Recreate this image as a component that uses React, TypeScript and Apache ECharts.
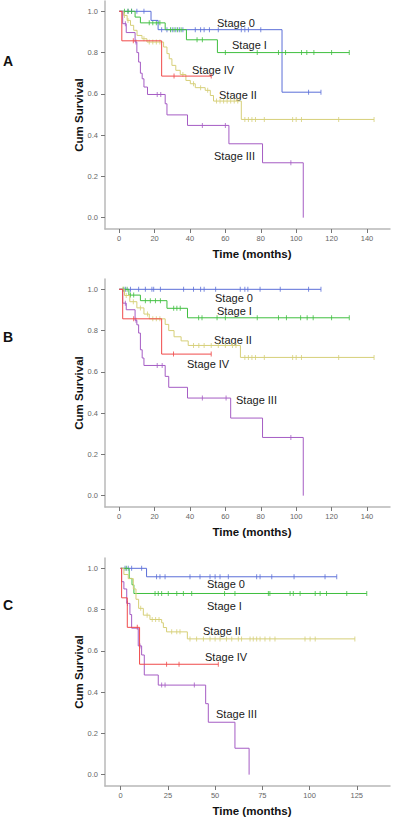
import React, { useEffect, useRef } from "react";
import * as echarts from "echarts";

// ---------- categories ----------
const STAGES = ["Stage 0", "Stage I", "Stage II", "Stage III", "Stage IV"];
const PANELS = ["A", "B", "C"];
const COLORS = ["#5b6fd8", "#3fbf3f", "#d6cf78", "#a55cc4", "#f04a4a"];

// ---------- tick labels ----------
const X_TICKS_AB = [0, 20, 40, 60, 80, 100, 120, 140];
const X_TICKS_C = [0, 25, 50, 75, 100, 125];
const Y_TICKS = [0, 0.2, 0.4, 0.6, 0.8, 1.0];

// ---------- Panel A: [time (months), cum survival] ----------
const A_S0 = [[0, 1], [18, 0.956], [22, 0.911], [92, 0.608], [114, 0.608]];
const A_S0_CENS = [5, 7, 10, 14, 24, 27, 30, 32, 34, 36, 43, 46, 48, 51, 56, 69, 71, 73, 80, 107, 114];
const A_S1 = [[0, 1], [9, 0.972], [12, 0.944], [26, 0.911], [38, 0.862], [55.5, 0.8], [130, 0.8]];
const A_S1_CENS = [3, 5, 7, 17, 19, 21, 23, 29, 31, 33, 35, 44, 47, 60, 78, 90, 94, 103, 106, 110, 120, 130];
const A_S2 = [[0, 1], [2.6, 0.98], [4.5, 0.956], [6.4, 0.932], [8.2, 0.908], [10.1, 0.883], [12.9, 0.867], [15.7, 0.851], [25.1, 0.827], [27, 0.795], [28.3, 0.77], [29.8, 0.738], [32, 0.714], [34.5, 0.694], [37.7, 0.665], [40.2, 0.649], [43, 0.63], [48.6, 0.617], [51.5, 0.592], [53.3, 0.565], [69, 0.476], [144, 0.476]];
const A_S2_CENS = [3, 5, 14, 17, 19, 21, 23, 36, 42, 46, 50, 55, 57, 59, 61, 63, 65, 67, 71, 73, 75, 77, 82, 98, 100, 103, 124, 144];
const A_S3 = [[0, 1], [2, 0.94], [4, 0.897], [9, 0.851], [10, 0.8], [11, 0.754], [12, 0.7], [13, 0.673], [14, 0.633], [16, 0.597], [26, 0.552], [27, 0.498], [38.6, 0.447], [62, 0.358], [81, 0.266], [104, 0]];
const A_S3_CENS = [3.5, 9.5, 21.5, 23.5, 47, 60, 97];
const A_S4 = [[0, 1], [1.5, 0.857], [24, 0.686], [52, 0.686]];
const A_S4_CENS = [8, 31, 52];

// ---------- Panel B ----------
const B_S0 = [[0, 1], [114, 1]];
const B_S0_CENS = [3.5, 6.4, 11, 14.8, 18.5, 19.5, 23.3, 36.4, 42, 46, 48, 54.5, 68.4, 71, 72.7, 79.6, 91, 107, 114];
const B_S1 = [[0, 1], [5.5, 0.972], [12, 0.945], [27, 0.908], [38.6, 0.862], [130, 0.862]];
const B_S1_CENS = [2.6, 4.5, 6.4, 8.2, 14.8, 17.6, 20.5, 23.3, 30.8, 32.6, 34.5, 44.9, 46.8, 55.3, 60, 78, 90, 94.5, 102.5, 106.2, 109.6, 120, 130];
const B_S2 = [[0, 1], [3, 0.97], [6, 0.94], [10, 0.91], [14, 0.88], [17, 0.857], [26, 0.83], [28, 0.8], [31, 0.77], [35, 0.75], [39, 0.728], [68.5, 0.67], [144, 0.67]];
const B_S2_CENS = [2, 4, 8, 12, 16, 19, 21, 23, 42, 45, 48, 52, 56, 60, 64, 66, 71, 73, 75, 77, 82, 98, 100, 103, 124, 144];
const B_S3 = [[0, 1], [2, 0.933], [4, 0.901], [9, 0.85], [10, 0.828], [11, 0.788], [12, 0.707], [13, 0.667], [14, 0.631], [26, 0.578], [28, 0.525], [38.6, 0.473], [63, 0.376], [81, 0.282], [104, 0]];
const B_S3_CENS = [3.5, 9.5, 21.5, 24.3, 47, 60.4, 97];
const B_S4 = [[0, 1], [2, 0.857], [24, 0.686], [52, 0.686]];
const B_S4_CENS = [8.2, 30.7, 52];

// ---------- Panel C ----------
const C_S0 = [[0, 1], [13.7, 0.959], [114.4, 0.959]];
const C_S0_CENS = [2.3, 4, 5.8, 11.1, 19, 20.8, 23.5, 36.7, 42, 47.3, 50, 52.6, 57, 72, 73.8, 80, 91.8, 108.2, 114.4];
const C_S1 = [[0, 1], [4.5, 0.951], [6, 0.92], [7, 0.878], [130.3, 0.878]];
const C_S1_CENS = [3, 18.2, 19.9, 21.7, 25.2, 29.7, 33.2, 37.6, 55, 60.5, 78.2, 79, 89.7, 91.4, 95, 103, 105.6, 109, 119.7, 130.3];
const C_S2 = [[0, 1], [1.7, 0.97], [4, 0.95], [6.7, 0.9], [8.1, 0.85], [9.5, 0.806], [12, 0.773], [15.5, 0.752], [21.7, 0.736], [22.6, 0.713], [24.3, 0.692], [35.3, 0.658], [124, 0.658]];
const C_S2_CENS = [10.6, 14, 16.7, 18.5, 20.3, 27, 29.7, 31.4, 36.7, 40.2, 43.8, 47.3, 50, 52.6, 56, 58.8, 62.3, 64, 68.5, 70.2, 72, 73.8, 76.4, 79, 81.7, 97.6, 100.3, 103, 124];
const C_S3 = [[0, 1], [0.5, 0.935], [1.7, 0.9], [3.2, 0.83], [4.9, 0.776], [5.8, 0.71], [9.3, 0.624], [11.1, 0.58], [12.5, 0.483], [19.9, 0.434], [45, 0.344], [46.4, 0.254], [60.5, 0.128], [68, 0]];
const C_S3_CENS = [3.6, 10.2, 21.7, 23.5, 39];
const C_S4 = [[0, 1], [0.5, 0.857], [3.5, 0.714], [10, 0.535], [51.7, 0.535]];
const C_S4_CENS = [8.8, 24.3, 30.9, 51.7];

const CURVES = [
  [A_S0, A_S1, A_S2, A_S3, A_S4],
  [B_S0, B_S1, B_S2, B_S3, B_S4],
  [C_S0, C_S1, C_S2, C_S3, C_S4],
];
const CENSORS = [
  [A_S0_CENS, A_S1_CENS, A_S2_CENS, A_S3_CENS, A_S4_CENS],
  [B_S0_CENS, B_S1_CENS, B_S2_CENS, B_S3_CENS, B_S4_CENS],
  [C_S0_CENS, C_S1_CENS, C_S2_CENS, C_S3_CENS, C_S4_CENS],
];

// ---------- layout (pixels) ----------
const GRID_TOPS = [1, 279, 558];
const GRID_H = 228;
const GRID_LEFT = 105;
const GRID_W = 285;
const X_RANGES = [[-8, 153], [-8, 153], [-8.3, 142.6]];
const Y_RANGE = [-0.055, 1.05];
// label positions [left x, center y] per panel, in STAGES order
const LABEL_POS = [
  [[217, 23], [232, 45], [219, 95], [214, 156], [192, 70]],
  [[215, 298], [217, 311], [214, 340], [236, 400], [187, 364]],
  [[207, 584], [207, 606], [203, 631], [216, 714], [205, 657]],
];
const LETTER_Y = [62, 338, 606];

const FONT = "'Liberation Sans', Arial, sans-serif";

function survAt(steps: number[][], t: number) {
  let s = steps[0][1];
  for (const p of steps) if (p[0] <= t) s = p[1];
  return s;
}

export default function App() {
  const ref = useRef<HTMLDivElement>(null);
  useEffect(() => {
    if (!ref.current) return;
    const chart = echarts.init(ref.current, undefined, { renderer: "svg" });

    const grid = GRID_TOPS.map((top) => ({ left: GRID_LEFT, top, width: GRID_W, height: GRID_H }));
    const xAxis = PANELS.map((_, i) => {
      const ticks = i === 2 ? X_TICKS_C : X_TICKS_AB;
      return {
        type: "value",
        gridIndex: i,
        min: X_RANGES[i][0],
        max: X_RANGES[i][1],
        axisLine: { show: true, onZero: false, lineStyle: { color: "#b8b8b8", width: 1.5 } },
        axisTick: { show: true, length: 4, customValues: ticks, lineStyle: { color: "#777", width: 1 } },
        axisLabel: { customValues: ticks, margin: 5, fontSize: 7.5, color: "#666", fontFamily: FONT },
        splitLine: { show: false },
      };
    });
    const yAxis = PANELS.map((_, i) => ({
      type: "value",
      gridIndex: i,
      min: Y_RANGE[0],
      max: Y_RANGE[1],
      axisLine: { show: true, onZero: false, lineStyle: { color: "#b8b8b8", width: 1.5 } },
      axisTick: { show: true, length: 4, customValues: Y_TICKS, lineStyle: { color: "#777", width: 1 } },
      axisLabel: {
        customValues: Y_TICKS,
        margin: 7,
        fontSize: 7.5,
        color: "#666",
        fontFamily: FONT,
        formatter: (v: number) => v.toFixed(1),
      },
      splitLine: { show: false },
    }));

    const series: any[] = [];
    CURVES.forEach((panel, pi) => {
      panel.forEach((steps, si) => {
        series.push({
          type: "line",
          name: STAGES[si],
          xAxisIndex: pi,
          yAxisIndex: pi,
          step: "end",
          showSymbol: false,
          data: steps,
          lineStyle: { color: COLORS[si], width: 1 },
          itemStyle: { color: COLORS[si] },
          silent: true,
        });
        series.push({
          type: "scatter",
          name: STAGES[si] + " censored",
          xAxisIndex: pi,
          yAxisIndex: pi,
          symbol: "rect",
          symbolSize: [1, 5],
          data: CENSORS[pi][si].map((t) => [t, survAt(steps, t)]),
          itemStyle: { color: COLORS[si] },
          silent: true,
        });
      });
    });

    const graphic: any[] = [];
    PANELS.forEach((p, pi) => {
      graphic.push({
        type: "text",
        left: 3,
        top: LETTER_Y[pi] - 8,
        style: { text: p, font: `bold 14px ${FONT}`, fill: "#111" },
      });
      const top = GRID_TOPS[pi];
      graphic.push({
        type: "text",
        x: 79,
        y: top + 114,
        rotation: Math.PI / 2,
        style: {
          text: "Cum Survival",
          font: `bold 11.5px ${FONT}`,
          fill: "#111",
          align: "center",
          verticalAlign: "middle",
        },
      });
      graphic.push({
        type: "text",
        x: 252,
        y: top + GRID_H + 25,
        style: {
          text: "Time (months)",
          font: `bold 11.5px ${FONT}`,
          fill: "#111",
          align: "center",
          verticalAlign: "middle",
        },
      });
      STAGES.forEach((s, si) => {
        const [lx, ly] = LABEL_POS[pi][si];
        graphic.push({
          type: "text",
          x: lx,
          y: ly,
          style: { text: s, font: `11px ${FONT}`, fill: "#1a1a1a", align: "left", verticalAlign: "middle" },
        });
      });
    });

    chart.setOption({
      animation: false,
      backgroundColor: "#ffffff",
      grid,
      xAxis,
      yAxis,
      series,
      graphic,
    });
    return () => chart.dispose();
  }, []);

  return (
    <div
      ref={ref}
      style={{ position: "fixed", left: 0, top: 0, width: 400, height: 817, background: "#fff" }}
    />
  );
}
